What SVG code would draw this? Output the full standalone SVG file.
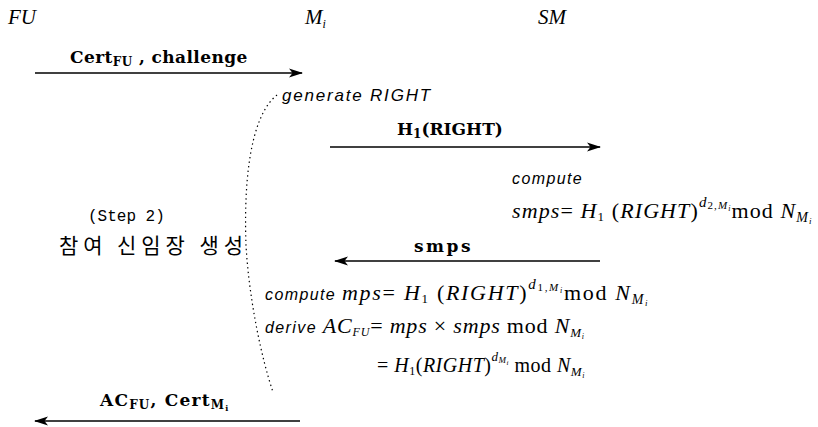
<svg xmlns="http://www.w3.org/2000/svg" width="818" height="427" viewBox="0 0 818 427">
<defs>
<marker id="ah" markerUnits="userSpaceOnUse" markerWidth="14" markerHeight="10" viewBox="0 0 14 10" refX="13" refY="5" orient="auto">
<path d="M0,0.5 L14,5 L0,9.5 L3.5,5 Z" fill="#000"/>
</marker>
<style>
.hdr{font-family:"Liberation Serif",serif;font-style:italic;font-size:21px;fill:#000}
.lbl{font-family:"DejaVu Serif",serif;font-weight:bold;font-size:17px;letter-spacing:0.4px;fill:#000}
.it{font-family:"Liberation Sans",sans-serif;font-style:italic;font-size:16px;letter-spacing:1.4px;fill:#000}
.m{font-family:"Liberation Serif",serif;font-style:italic;font-size:22px;letter-spacing:1.1px;fill:#000}
.r{font-style:normal}
.ko{font-family:"Noto Sans CJK KR",sans-serif;font-size:21px;fill:#000}
.mono{font-family:"Liberation Mono",monospace;font-size:16px;fill:#000}
.msg{stroke:#000;stroke-width:1.6;fill:none;marker-end:url(#ah)}
.dot{stroke:#000;stroke-width:1.2;fill:none;stroke-dasharray:1.4 3.2}
</style>
</defs>

<g id="node-FU"><text class="hdr" x="8" y="24">FU</text></g>
<g id="node-Mi"><text class="hdr" x="305" y="24">M<tspan font-size="12" dy="4">i</tspan></text></g>
<g id="node-SM"><text class="hdr" x="538" y="24">SM</text></g>

<g id="node-step2">
<path class="dot" d="M277,95 C248,118 244,190 246,245 C249,300 262,360 273,392"/>
<text class="mono" x="88" y="221">(Step 2)</text>
<text class="ko" x="59" y="253" textLength="184" lengthAdjust="spacing">참여 신임장 생성</text>
</g>

<g id="node-Mi-gen"><text class="it" x="282" y="101" style="font-size:17px;letter-spacing:1.8px">generate  RIGHT</text></g>

<g id="node-SM-compute">
<text class="it" x="512" y="184">compute</text>
<text class="m" x="512" y="218">smps<tspan class="r">= </tspan>H<tspan class="r" font-size="13" dy="3">1</tspan><tspan class="r" dy="-3"> (</tspan>RIGHT<tspan class="r">)</tspan><tspan font-size="15" dy="-11">d</tspan><tspan class="r" font-size="11" dy="2">2,</tspan><tspan font-size="11">M</tspan><tspan font-size="8" dy="2">i</tspan><tspan class="r" dy="7">mod </tspan>N<tspan font-size="14" dy="4">M</tspan><tspan font-size="9" dy="2">i</tspan></text>
</g>

<g id="node-Mi-compute">
<text class="m" x="265" y="300" style="letter-spacing:1.7px"><tspan class="it" font-size="16">compute  </tspan>mps<tspan class="r">= </tspan>H<tspan class="r" font-size="13" dy="3">1</tspan><tspan class="r" dy="-3"> (</tspan>RIGHT<tspan class="r">)</tspan><tspan font-size="15" dy="-11">d</tspan><tspan class="r" font-size="11" dy="2">1,</tspan><tspan font-size="11">M</tspan><tspan font-size="8" dy="2">i</tspan><tspan class="r" dy="7">mod </tspan>N<tspan font-size="14" dy="4">M</tspan><tspan font-size="9" dy="2">i</tspan></text>
<text class="m" x="265" y="333" style="letter-spacing:0.8px"><tspan class="it" font-size="16">derive  </tspan>AC<tspan font-size="12" dy="3">FU</tspan><tspan class="r" dy="-3">= </tspan>mps<tspan class="r"> × </tspan>smps<tspan class="r"> mod </tspan>N<tspan font-size="13" dy="4">M</tspan><tspan font-size="8" dy="2">i</tspan></text>
<text class="m" x="377" y="372" style="font-size:20px;letter-spacing:0.5px"><tspan class="r">= </tspan>H<tspan class="r" font-size="12" dy="3">1</tspan><tspan class="r" dy="-3">(</tspan>RIGHT<tspan class="r">)</tspan><tspan font-size="13" dy="-11">d</tspan><tspan font-size="9" dy="2">M</tspan><tspan font-size="7" dy="2">i</tspan><tspan class="r" dy="7"> mod </tspan>N<tspan font-size="13" dy="4">M</tspan><tspan font-size="8" dy="2">i</tspan></text>
</g>

<g id="connectors">
<line class="msg" x1="35" y1="73" x2="302" y2="73"/>
<text class="lbl" x="70" y="63">Cert<tspan font-size="12" dy="3">FU</tspan><tspan dy="-3">  ,  challenge</tspan></text>

<line class="msg" x1="330" y1="147" x2="600" y2="147"/>
<text class="lbl" x="397" y="135" style="letter-spacing:0">H<tspan font-size="12" dy="3">1</tspan><tspan dy="-3">(RIGHT)</tspan></text>

<line class="msg" x1="600" y1="261" x2="335" y2="261"/>
<text class="lbl" x="414" y="252" style="letter-spacing:2.5px">smps</text>

<line class="msg" x1="300" y1="421" x2="35" y2="421"/>
<text class="lbl" x="100" y="406" style="letter-spacing:1.2px">AC<tspan font-size="12" dy="3">FU</tspan><tspan dy="-3">,  Cert</tspan><tspan font-size="12" dy="3">M</tspan><tspan font-size="8" dy="2">i</tspan></text>
</g>
</svg>
